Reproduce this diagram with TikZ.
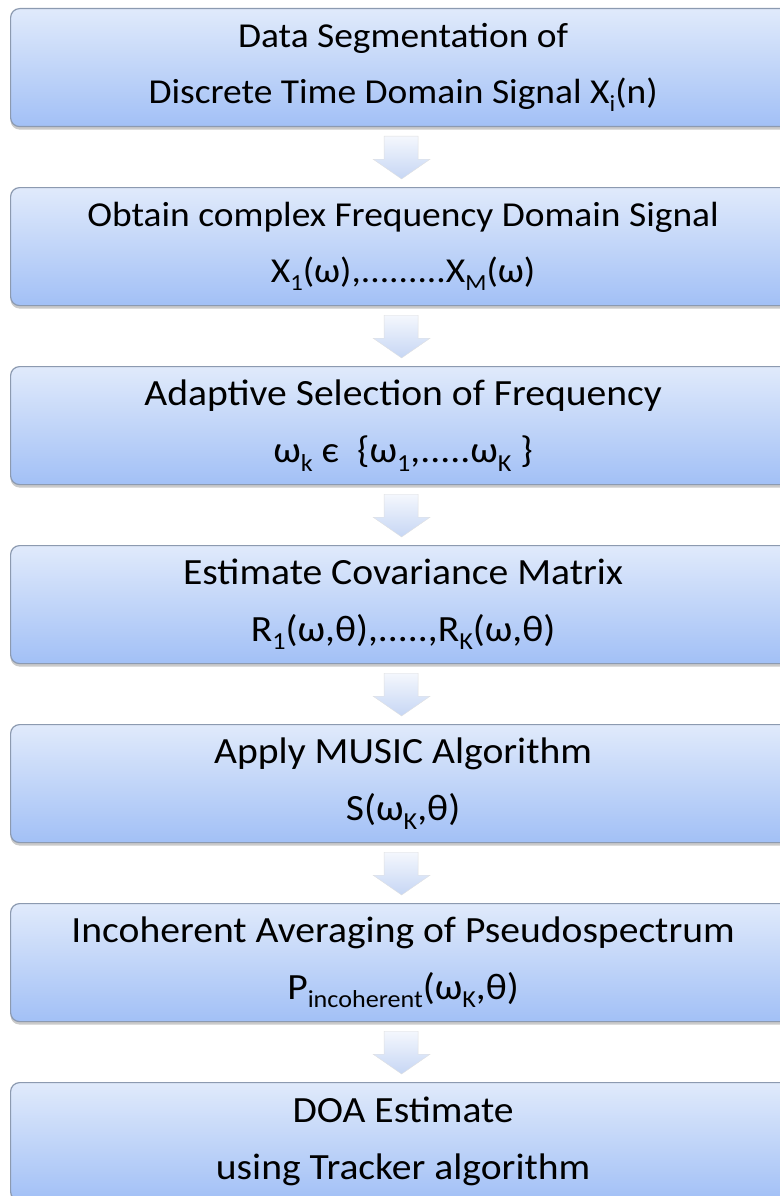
\documentclass[tikz,border=0pt]{standalone}
\usepackage{fontspec}
\setmainfont{Carlito}[FakeStretch=1.07]
\usetikzlibrary{calc,shadows}
\newcommand\sbs[1]{\raisebox{-0.22em}{\fontsize{0.66em}{0.66em}\selectfont #1}}
\definecolor{boxtop}{HTML}{E0EAFB}
\definecolor{boxbot}{HTML}{A2C0F6}
\definecolor{boxline}{HTML}{8C9AB0}
\definecolor{arrtop}{HTML}{F4F7FD}
\definecolor{arrbot}{HTML}{C6D6F4}
\tikzset{
  stepbox/.style={draw=boxline, line width=1.2pt, rounded corners=9pt,
    top color=boxtop, bottom color=boxbot,
    drop shadow={shadow xshift=0pt, shadow yshift=-3pt, opacity=0.35, fill=black!60},
    minimum width=785pt, minimum height=118pt, inner sep=0pt,
    align=center, anchor=north west},
  smalltext/.style={font=\fontsize{35}{56}\selectfont},
  bigtext/.style={font=\fontsize{37}{57}\selectfont},
  flowarrow/.style={top color=arrtop, bottom color=arrbot, draw=black!12, line width=0.4pt}
}
\begin{document}
\begin{tikzpicture}[x=1pt,y=-1pt]
\useasboundingbox (0,0) rectangle (779,1196);
\node[stepbox,smalltext] (b1) at (10,8) {Data Segmentation of\\Discrete Time Domain Signal X\sbs{i}(n)};
\node[stepbox,smalltext] (b2) at (10,187) {Obtain complex Frequency Domain Signal\\X\sbs{1}(ω),.........X\sbs{M}(ω)};
\node[stepbox,bigtext] (b3) at (10,366) {Adaptive Selection of Frequency\\ω\sbs{k} є\ \ \{ω\sbs{1},.....ω\sbs{K} \}};
\node[stepbox,bigtext] (b4) at (10,545) {Estimate Covariance Matrix\\R\sbs{1}(ω,θ),.....,R\sbs{K}(ω,θ)};
\node[stepbox,bigtext] (b5) at (10,724) {Apply MUSIC Algorithm\\S(ω\sbs{K},θ)};
\node[stepbox,bigtext] (b6) at (10,903) {Incoherent Averaging of Pseudospectrum\\P\sbs{incoherent}(ω\sbs{K},θ)};
\node[stepbox,bigtext] (b7) at (10,1082) {DOA Estimate\\using Tracker algorithm};
\foreach \a/\b in {b1/b2,b2/b3,b3/b4,b4/b5,b5/b6,b6/b7}{
  \path[flowarrow] ($(\a.south)+(-19,9)$) -- ($(\a.south)+(15,9)$) -- ($(\a.south)+(15,32)$)
    -- ($(\a.south)+(27,32)$) -- ($(\b.north)+(-1.5,-8)$) -- ($(\a.south)+(-30,32)$)
    -- ($(\a.south)+(-19,32)$) -- cycle;
}
\end{tikzpicture}
\end{document}
